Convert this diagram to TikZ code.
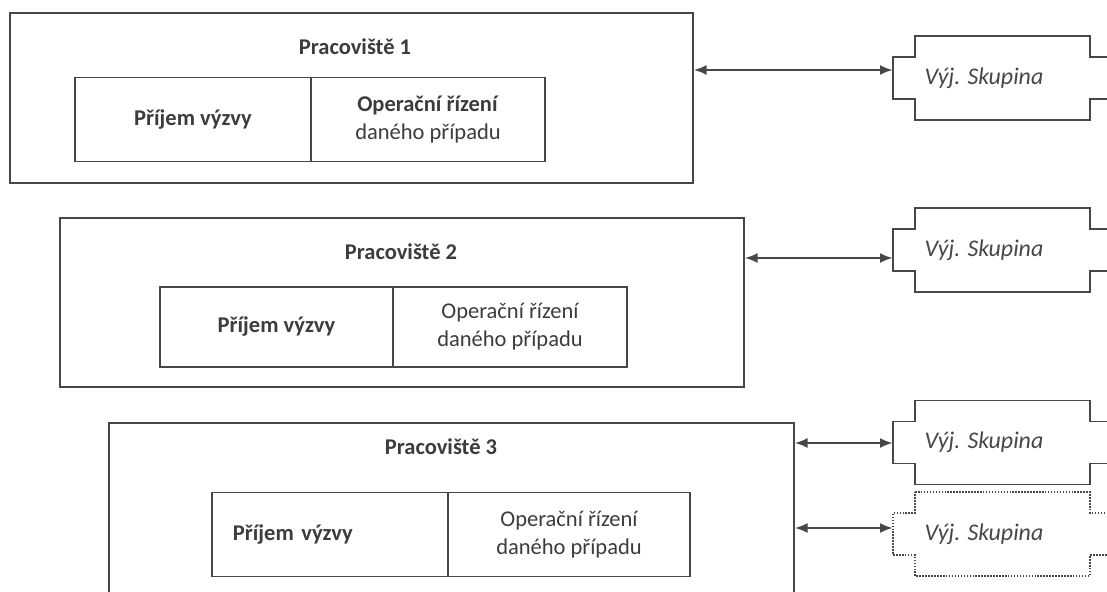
\documentclass[tikz,border=0pt]{standalone}
\usepackage{fontspec}
\setmainfont{Carlito}
\usetikzlibrary{calc,arrows.meta}
\definecolor{ink}{HTML}{474747}
\definecolor{txt}{HTML}{3C3C3C}
\tikzset{
  outer/.style={draw=ink, line width=1.1pt, minimum height=#1},
  outer/.default=4.25cm,
  cell/.style={draw=ink, line width=1.1pt, minimum height=2.1cm, text=txt, align=center, font=\fontsize{16}{20}\selectfont},
  title/.style={text=txt, font=\fontsize{16}{20}\selectfont\bfseries},
  grp/.style={minimum width=4.55cm, minimum height=2.1cm, inner sep=0pt, text=ink, font=\fontsize{17}{20}\selectfont\itshape},
  link/.style={draw=ink, line width=1.3pt, {Latex[length=9pt,width=7pt]}-{Latex[length=9pt,width=7pt]}}
}
\begin{document}
\begin{tikzpicture}[x=0.025cm, y=-0.025cm]
\clip (0,0) rectangle (1107,592);
\fill[white] (0,0) rectangle (1107,592);

% Pracoviste 1
\node[outer, minimum width=17.075cm] (p1) at (351.5,98) {};
\node[title] (t1) at (355,47) {Pracoviště 1};
\node[cell, minimum width=5.9cm, font=\fontsize{16}{20}\selectfont\bfseries] (a1) at (193,119.5) {Příjem výzvy};
\node[cell, minimum width=5.85cm] (b1) at (428,119.5) {\textbf{Operační řízení}\\daného případu};

% Pracoviste 2
\node[outer=4.225cm, minimum width=17.1cm] (p2) at (402,302.5) {};
\node[title] (t2) at (401,252) {Pracoviště 2};
\node[cell, minimum width=5.825cm, minimum height=2cm, font=\fontsize{16}{20}\selectfont\bfseries] (a2) at (276.5,327) {Příjem výzvy};
\node[cell, minimum width=5.85cm, minimum height=2cm] (b2) at (510,327) {Operační řízení\\daného případu};

% Pracoviste 3
\node[outer=4.675cm, minimum width=17.125cm] (p3) at (451.5,516.5) {};
\node[title] (t3) at (441,447) {Pracoviště 3};
\node[cell, text width=4.85cm, inner xsep=0.525cm, align=left, font=\fontsize{16}{20}\selectfont\bfseries] (a3) at (330,534.5) {Příjem výzvy};
\node[cell, minimum width=6.05cm] (b3) at (569,534.5) {Operační řízení\\daného případu};

% vyjezdove skupiny
\node[grp] (s1) at (984,78) {Výj. Skupina};
\node[grp] (s2) at (984,250) {Výj. Skupina};
\node[grp] (s3) at (984,442.5) {Výj. Skupina};
\node[grp] (s4) at (984,534) {Výj. Skupina};

\foreach \s/\sty in {s1/solid, s2/solid, s3/solid, s4/densely dotted}
  \draw[ink, line width=1.1pt, \sty]
    ($(\s.center)+(-69,-42)$) -- ($(\s.center)+(106,-42)$) -- ($(\s.center)+(106,-21)$)
    -- ($(\s.center)+(140,-21)$) -- ($(\s.center)+(140,21)$) -- ($(\s.center)+(106,21)$)
    -- ($(\s.center)+(106,42)$) -- ($(\s.center)+(-69,42)$) -- ($(\s.center)+(-69,21)$)
    -- ($(\s.center)+(-91,21)$) -- ($(\s.center)+(-91,-21)$) -- ($(\s.center)+(-69,-21)$) -- cycle;

\draw[link] (p1.east |- 0,70) -- (s1.west |- 0,70);
\draw[link] (p2.east |- 0,258) -- (s2.west |- 0,258);
\draw[link] (p3.east |- 0,443) -- (s3.west |- 0,443);
\draw[link] (p3.east |- 0,528) -- (s4.west |- 0,528);
\end{tikzpicture}
\end{document}
